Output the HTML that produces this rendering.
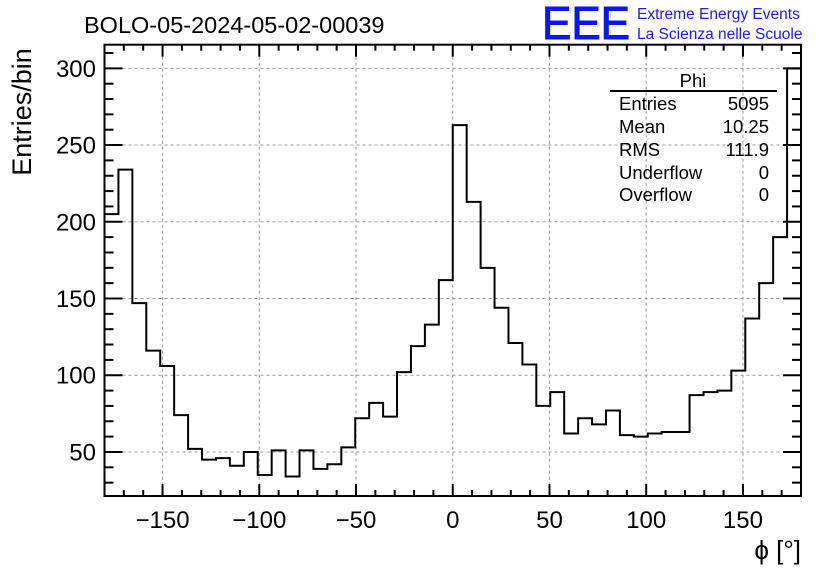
<!DOCTYPE html>
<html><head><meta charset="utf-8"><style>
body{margin:0;background:#fff;}
svg{display:block;font-family:"Liberation Sans",Arial,sans-serif;}
</style></head><body>
<svg id="c" width="836" height="572">
<rect width="836" height="572" fill="#fff"/>
<text x="84" y="33" font-size="23.5">BOLO-05-2024-05-02-00039</text>
<text x="542" y="39" font-size="46" fill="#0a14ff" stroke="#0a14ff" stroke-width="1" textLength="88" lengthAdjust="spacingAndGlyphs">EEE</text>
<text x="637" y="19" font-size="15.5" fill="#1a1aff">Extreme Energy Events</text>
<text x="637" y="39" font-size="15.5" fill="#1a1aff">La Scienza nelle Scuole</text>
<g id="grid"></g>
<g id="bars"></g>
<g id="axes"></g>
<text transform="translate(31,112) rotate(-90)" text-anchor="middle" font-size="27">Entries/bin</text>
<text x="801" y="559" text-anchor="end" font-size="26">ϕ [°]</text>
<g font-size="18.5">
<text x="693" y="87" text-anchor="middle">Phi</text>
<line x1="610" y1="91" x2="777" y2="91" stroke="#000" stroke-width="2"/>
<text x="619" y="110">Entries</text><text x="769" y="110" text-anchor="end">5095</text>
<text x="619" y="133">Mean</text><text x="769" y="133" text-anchor="end">10.25</text>
<text x="619" y="156">RMS</text><text x="769" y="156" text-anchor="end">111.9</text>
<text x="619" y="179">Underflow</text><text x="769" y="179" text-anchor="end">0</text>
<text x="619" y="201">Overflow</text><text x="769" y="201" text-anchor="end">0</text>
</g>
</svg>
<script>
const counts=[205,234,147,116,106,74,52,45,46,41,50,35,51,34,51,39,42,53,72,82,73,102,119,133,162,263,213,170,144,121,107,80,89,62,72,68,77,61,60,62,63,63,87,89,90,103,137,160,190,300];
const xTicks=[-150,-100,-50,0,50,100,150];
const yTicks=[50,100,150,200,250,300];
const xMin=-180,xMax=180,yMin=21.3,yMax=315.4;
const L=104.5,R=801,T=44.7,B=496;
const sx=v=>L+(v-xMin)/(xMax-xMin)*(R-L);
const sy=v=>B-(v-yMin)/(yMax-yMin)*(B-T);
const NS="http://www.w3.org/2000/svg";
function mk(tag,attrs,parent){const e=document.createElementNS(NS,tag);for(const k in attrs)e.setAttribute(k,attrs[k]);parent.appendChild(e);return e;}
const grid=document.getElementById('grid'),bars=document.getElementById('bars'),axes=document.getElementById('axes');
xTicks.forEach(v=>{const l=mk('line',{x1:sx(v),x2:sx(v),y1:T,y2:B,stroke:'#999','stroke-dasharray':'3,3'},grid);

});
yTicks.forEach(v=>{const l=mk('line',{x1:L,x2:R,y1:sy(v),y2:sy(v),stroke:'#999','stroke-dasharray':'3,3'},grid);

});
const w=(xMax-xMin)/counts.length;
let d='M'+sx(xMin)+' '+B;
counts.forEach((c,i)=>{d+=' L'+sx(xMin+i*w)+' '+sy(c)+' L'+sx(xMin+(i+1)*w)+' '+sy(c);});
d+=' L'+sx(xMax)+' '+B;
const p=mk('path',{d:d,fill:'none',stroke:'#000','stroke-width':2},bars);


const fr=mk('rect',{x:L,y:T,width:R-L,height:B-T,fill:'none',stroke:'#000','stroke-width':2},axes);


for(let v=-180;v<=180;v+=10){const maj=v%50===0;const len=maj?12:6;
mk('line',{x1:sx(v),x2:sx(v),y1:B,y2:B-len,stroke:'#000','stroke-width':2},axes);
mk('line',{x1:sx(v),x2:sx(v),y1:T,y2:T+len,stroke:'#000','stroke-width':2},axes);}
for(let v=30;v<=310;v+=10){const maj=v%50===0;const len=maj?18:9;
mk('line',{x1:L,x2:L+len,y1:sy(v),y2:sy(v),stroke:'#000','stroke-width':2},axes);
mk('line',{x1:R,x2:R-len,y1:sy(v),y2:sy(v),stroke:'#000','stroke-width':2},axes);}
xTicks.forEach(v=>{const t=mk('text',{x:sx(v),y:528,'text-anchor':'middle','font-size':24},axes);t.textContent=(v<0?'\u2212'+(-v):v);

});
yTicks.forEach(v=>{const t=mk('text',{x:96,y:sy(v)+8.5,'text-anchor':'end','font-size':24},axes);t.textContent=v;

});
</script>
</body></html>
